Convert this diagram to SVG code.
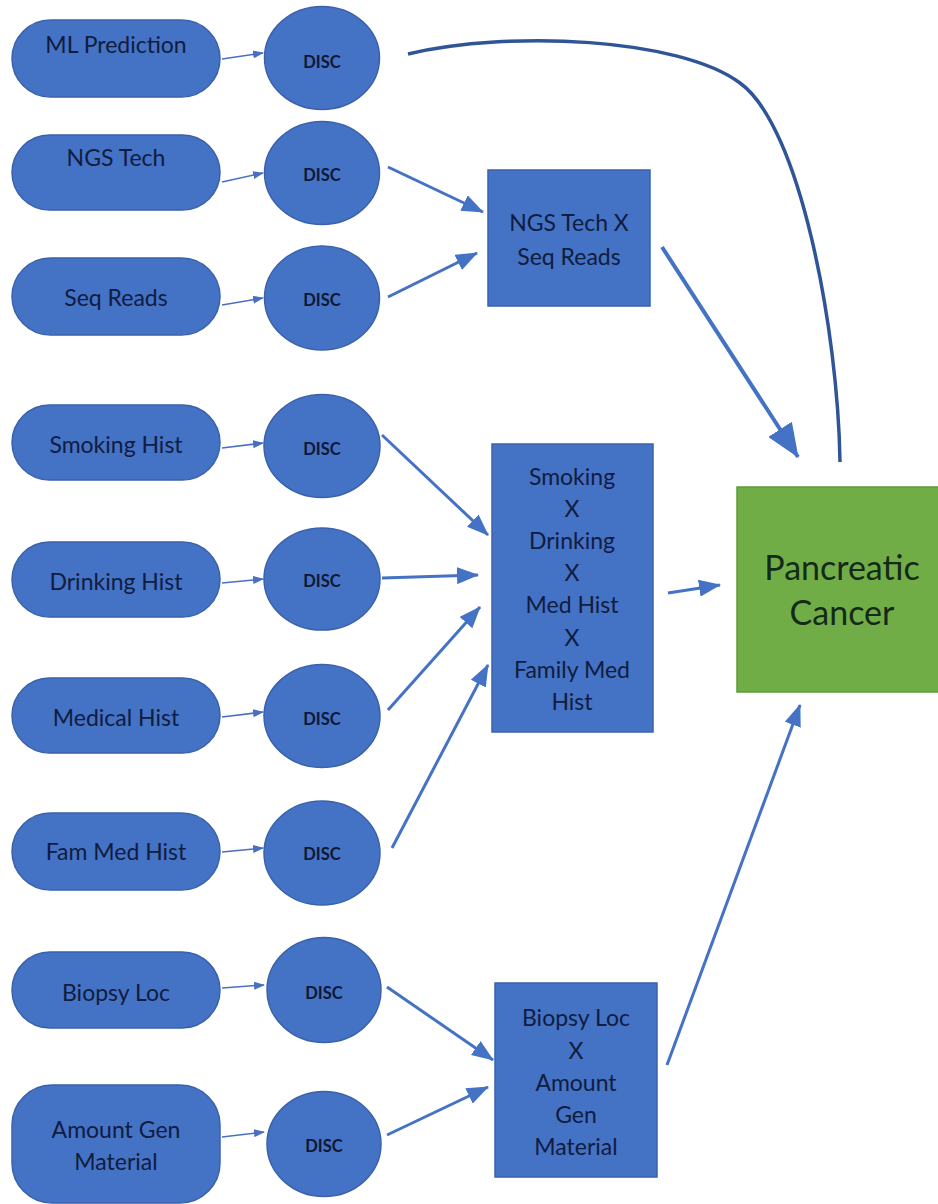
<svg xmlns="http://www.w3.org/2000/svg" width="938" height="1204" viewBox="0 0 938 1204">
<style>
.pill{fill:#4472C4;stroke:#3A62AC;stroke-width:1.5}
.disc{fill:#4472C4;stroke:#3A62AC;stroke-width:1.5}
.box{fill:#4472C4;stroke:#3A62AC;stroke-width:1.5}
.green{fill:#70AD47;stroke:#5E9A3A;stroke-width:1.5}
.t{font-family:Lato,"Liberation Sans",sans-serif;font-size:23px;fill:#101C40;text-anchor:middle}
.d{font-family:Lato,"Liberation Sans",sans-serif;font-size:16.5px;font-weight:bold;fill:#0E1833;text-anchor:middle}
.g{font-family:Lato,"Liberation Sans",sans-serif;font-size:34px;fill:#142A16;text-anchor:middle}
.s{stroke:#4A6FC2;stroke-width:1.6;fill:none}
.m{stroke:#4472C4;stroke-width:3;fill:none}
.l{stroke:#4472C4;stroke-width:4;fill:none}
.c{stroke:#2F5597;stroke-width:3.5;fill:none}
</style>
<defs>
<marker id="sm" markerWidth="11" markerHeight="8" refX="10" refY="4" orient="auto" markerUnits="userSpaceOnUse"><path d="M0,0 L11,4 L0,8 Z" fill="#4A6FC2"/></marker>
<marker id="md" markerWidth="22" markerHeight="17" refX="21" refY="8.5" orient="auto" markerUnits="userSpaceOnUse"><path d="M0,0 L22,8.5 L0,17 Z" fill="#4472C4"/></marker>
<marker id="lg" markerWidth="34" markerHeight="28" refX="33" refY="14" orient="auto" markerUnits="userSpaceOnUse"><path d="M0,0 L34,14 L0,28 Z" fill="#4472C4"/></marker>
</defs>
<rect width="938" height="1204" fill="#FFFFFF"/>

<g id="connectors">
<line class="s" x1="222" y1="59" x2="263" y2="53" marker-end="url(#sm)"/>
<line class="s" x1="222" y1="182" x2="263" y2="173" marker-end="url(#sm)"/>
<line class="s" x1="222" y1="305" x2="263" y2="298" marker-end="url(#sm)"/>
<line class="s" x1="222" y1="448" x2="263" y2="443" marker-end="url(#sm)"/>
<line class="s" x1="222" y1="583" x2="263" y2="579" marker-end="url(#sm)"/>
<line class="s" x1="222" y1="717" x2="263" y2="712" marker-end="url(#sm)"/>
<line class="s" x1="222" y1="852" x2="263" y2="848" marker-end="url(#sm)"/>
<line class="s" x1="222" y1="988" x2="264" y2="985" marker-end="url(#sm)"/>
<line class="s" x1="222" y1="1137" x2="264" y2="1132" marker-end="url(#sm)"/>

<line class="m" x1="388" y1="167" x2="483" y2="212" marker-end="url(#md)"/>
<line class="m" x1="388" y1="297" x2="477" y2="253" marker-end="url(#md)"/>

<line class="m" x1="382" y1="435" x2="488" y2="535" marker-end="url(#md)"/>
<line class="m" x1="382" y1="578" x2="478" y2="575" marker-end="url(#md)"/>
<line class="m" x1="388" y1="710" x2="480" y2="607" marker-end="url(#md)"/>
<line class="m" x1="392" y1="848" x2="488" y2="665" marker-end="url(#md)"/>

<line class="m" x1="387" y1="987" x2="493" y2="1060" marker-end="url(#md)"/>
<line class="m" x1="387" y1="1135" x2="488" y2="1087" marker-end="url(#md)"/>

<line class="l" x1="662" y1="247" x2="798" y2="457" marker-end="url(#lg)"/>
<line class="m" x1="668" y1="593" x2="720" y2="585" marker-end="url(#md)"/>
<line class="m" x1="667" y1="1065" x2="800" y2="705" marker-end="url(#md)"/>

<path class="c" d="M408,54 C510,30 680,38 740,83 C800,126 838,330 840,462"/>
</g>

<g id="n-ml"><rect class="pill" x="12" y="20" width="208" height="77" rx="38.5"/><text class="t" x="116" y="53">ML Prediction</text></g>
<g id="n-ngs"><rect class="pill" x="12" y="135" width="208" height="75" rx="37.5"/><text class="t" x="116" y="166">NGS Tech</text></g>
<g id="n-seq"><rect class="pill" x="12" y="258" width="208" height="77" rx="38.5"/><text class="t" x="116" y="306">Seq Reads</text></g>
<g id="n-smoke"><rect class="pill" x="12" y="405" width="208" height="75" rx="37.5"/><text class="t" x="116" y="453">Smoking Hist</text></g>
<g id="n-drink"><rect class="pill" x="12" y="542" width="208" height="75" rx="37.5"/><text class="t" x="116" y="590">Drinking Hist</text></g>
<g id="n-med"><rect class="pill" x="12" y="678" width="208" height="75" rx="37.5"/><text class="t" x="116" y="726">Medical Hist</text></g>
<g id="n-fam"><rect class="pill" x="12" y="813" width="208" height="77" rx="38.5"/><text class="t" x="116" y="860">Fam Med Hist</text></g>
<g id="n-biopsy"><rect class="pill" x="12" y="952" width="208" height="76" rx="38"/><text class="t" x="116" y="1001">Biopsy Loc</text></g>
<g id="n-amount"><rect class="pill" x="12" y="1085" width="208" height="118" rx="40"/><text class="t" x="116" y="1138">Amount Gen</text><text class="t" x="116" y="1170">Material</text></g>

<g id="d-ml"><ellipse class="disc" cx="322" cy="58" rx="57.5" ry="51.5"/><text class="d" x="322" y="68">DISC</text></g>
<g id="d-ngs"><ellipse class="disc" cx="322" cy="173" rx="57.5" ry="51.5"/><text class="d" x="322" y="181">DISC</text></g>
<g id="d-seq"><ellipse class="disc" cx="322" cy="298" rx="57.5" ry="52"/><text class="d" x="322" y="306">DISC</text></g>
<g id="d-smoke"><ellipse class="disc" cx="322" cy="446" rx="58" ry="51.5"/><text class="d" x="322" y="455">DISC</text></g>
<g id="d-drink"><ellipse class="disc" cx="322" cy="579" rx="58" ry="51"/><text class="d" x="322" y="587">DISC</text></g>
<g id="d-med"><ellipse class="disc" cx="322" cy="716" rx="58" ry="51.5"/><text class="d" x="322" y="725">DISC</text></g>
<g id="d-fam"><ellipse class="disc" cx="322" cy="853" rx="58" ry="52"/><text class="d" x="322" y="860">DISC</text></g>
<g id="d-biopsy"><ellipse class="disc" cx="324" cy="990" rx="57" ry="52.5"/><text class="d" x="324" y="999">DISC</text></g>
<g id="d-amount"><ellipse class="disc" cx="324" cy="1144" rx="57" ry="52.5"/><text class="d" x="324" y="1152">DISC</text></g>

<g id="b-ngs"><rect class="box" x="488" y="170" width="162" height="136"/><text class="t" x="569" y="231">NGS Tech X</text><text class="t" x="569" y="265">Seq Reads</text></g>
<g id="b-smoke"><rect class="box" x="492" y="444" width="161" height="288"/>
<text class="t" x="572" y="485">Smoking</text><text class="t" x="572" y="517">X</text><text class="t" x="572" y="549">Drinking</text><text class="t" x="572" y="581">X</text><text class="t" x="572" y="613">Med Hist</text><text class="t" x="572" y="646">X</text><text class="t" x="572" y="678">Family Med</text><text class="t" x="572" y="710">Hist</text></g>
<g id="b-biopsy"><rect class="box" x="495" y="983" width="162" height="194"/>
<text class="t" x="576" y="1026">Biopsy Loc</text><text class="t" x="576" y="1059">X</text><text class="t" x="576" y="1091">Amount</text><text class="t" x="576" y="1123">Gen</text><text class="t" x="576" y="1155">Material</text></g>
<g id="pancreatic"><rect class="green" x="737" y="487" width="203" height="205"/><text class="g" x="842" y="580">Pancreatic</text><text class="g" x="842" y="625">Cancer</text></g>
</svg>
